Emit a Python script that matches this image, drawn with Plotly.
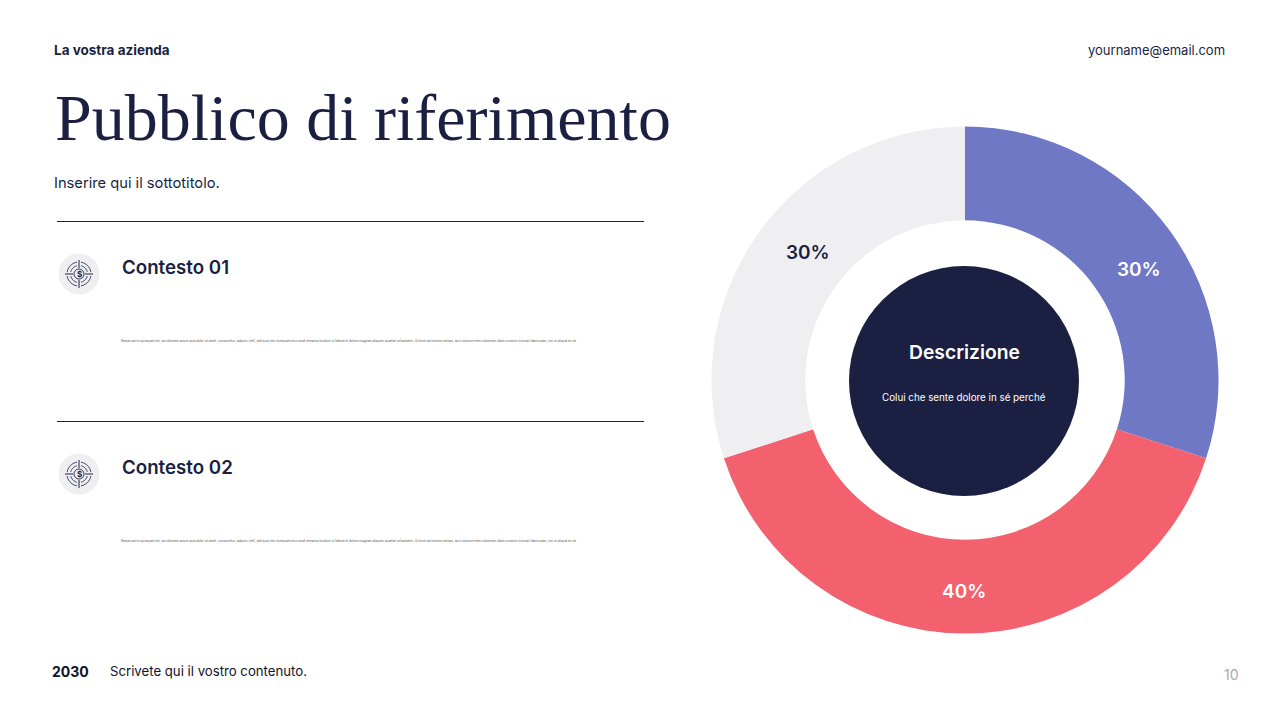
import math
import plotly.graph_objects as go

# Data
segment_names = ['Segmento 1', 'Segmento 2', 'Segmento 3']
segment_values = [30, 40, 30]
segment_colors = ['#6F78C4', '#F2616D', '#EFEFF2']

NAVY = '#1B1F42'
W, H = 1280, 720
body = ('Neque porro quisquam est, qui dolorem ipsum quia dolor sit amet, consectetur, adipisci velit, '
        'sed quia non numquam eius modi tempora incidunt ut labore et dolore magnam aliquam quaerat voluptatem. '
        'Ut enim ad minima veniam, quis nostrum exercitationem ullam corporis suscipit laboriosam, nisi ut aliquid ex ea')


def px_x(x):
    return x / W


def px_y(y):
    return 1 - y / H


def text(x, y, s, size, color=NAVY, weight=400, anchor='left', family='Inter'):
    # annotations pad the text by 2px, so left/right anchored text is pulled back
    shift = {'left': -2, 'right': 2, 'center': 0}[anchor]
    return dict(x=px_x(x + shift), y=px_y(y), xref='paper', yref='paper', text=s, showarrow=False,
                xanchor=anchor, yanchor='middle', align=anchor,
                font=dict(family=family, size=size, color=color, weight=weight))


def circle(cx, cy, r, fill='rgba(0,0,0,0)', line=None, width=0):
    return dict(type='circle', xref='paper', yref='paper',
                x0=px_x(cx - r), x1=px_x(cx + r), y0=px_y(cy + r), y1=px_y(cy - r),
                fillcolor=fill, line=dict(color=line or 'rgba(0,0,0,0)', width=width))


def segment(x0, y0, x1, y1, color=NAVY, width=1):
    return dict(type='line', xref='paper', yref='paper', x0=px_x(x0), y0=px_y(y0),
                x1=px_x(x1), y1=px_y(y1), line=dict(color=color, width=width))


def arc(cx, cy, r, start, end):
    # open polyline in pixels, angles in degrees clockwise from 12 o'clock
    pts = []
    for i in range(13):
        a = math.radians(start + (end - start) * i / 12)
        pts.append((cx + r * math.sin(a), cy - r * math.cos(a)))
    path = 'M ' + ' L '.join(f'{px_x(x):.5f},{px_y(y):.5f}' for x, y in pts)
    return dict(type='path', xref='paper', yref='paper', path=path,
                line=dict(color=NAVY, width=0.9))


def icon(cx, cy):
    # target badge: grey disc, broken rings, crosshair, small dollar sign
    parts = [circle(cx, cy, 20.5, fill='#EFEFF2'), circle(cx, cy, 5, line=NAVY, width=0.9)]
    for mid in (45, 135, 225, 315):
        parts.append(arc(cx, cy, 12, mid - 35, mid + 35))
        parts.append(arc(cx, cy, 8.5, mid - 30, mid + 30))
    parts += [
        segment(cx, cy - 14, cx, cy - 6),
        segment(cx, cy + 6, cx, cy + 14),
        segment(cx - 14, cy, cx - 6, cy),
        segment(cx + 6, cy, cx + 14, cy),
    ]
    return parts


fig = go.Figure(go.Pie(
    labels=segment_names,
    values=segment_values,
    sort=False,
    direction='clockwise',
    rotation=0,
    hole=0.63,
    marker=dict(colors=segment_colors, line=dict(width=0)),
    textinfo='none',
    showlegend=False,
    domain=dict(x=[px_x(711.5), px_x(1218.5)], y=[px_y(633.5), px_y(126.5)]),
))

shapes = [
    circle(964, 381, 115, fill=NAVY),
    segment(57, 221.5, 644, 221.5),
    segment(57, 421.5, 644, 421.5),
] + icon(79, 274) + icon(79, 474)

annotations = [
    text(54, 50, 'La vostra azienda', 13.5, weight=700),
    text(1225, 50, 'yourname@email.com', 13, anchor='right'),
    text(55, 118, 'Pubblico di riferimento', 66, family='Liberation Serif'),
    text(54, 182.5, 'Inserire qui il sottotitolo.', 14.7),
    text(122, 267, 'Contesto 01', 18.7, weight=600),
    text(122, 467, 'Contesto 02', 18.7, weight=600),
    text(121, 341, body, 3.08, color='#555555'),
    text(121, 541, body, 3.08, color='#555555'),
    text(79, 274, '$', 8, weight=700, anchor='center'),
    text(79, 474, '$', 8, weight=700, anchor='center'),
    text(964.5, 352, 'Descrizione', 19.3, color='#FFFFFF', weight=600, anchor='center'),
    text(963.5, 397.5, 'Colui che sente dolore in sé perché', 9.8, color='#FFFFFF', anchor='center'),
    text(52, 671, '2030', 14, color='#10122A', weight=700),
    text(110, 671, 'Scrivete qui il vostro contenuto.', 13.2, color='#10122A'),
    text(1231.5, 674, '10', 14, color='#A9A9B2', anchor='center'),
    # percentage labels, text taken from the values
    text(1139, 269, f'{segment_values[0]}%', 19, color='#FFFFFF', weight=600, anchor='center'),
    text(964, 591, f'{segment_values[1]}%', 19, color='#FFFFFF', weight=600, anchor='center'),
    text(808, 253, f'{segment_values[2]}%', 19, weight=600, anchor='center'),
]

fig.update_layout(
    width=W, height=H,
    margin=dict(l=0, r=0, t=0, b=0),
    paper_bgcolor='white',
    shapes=shapes,
    annotations=annotations,
)

fig.write_html('out.html', config={'displayModeBar': False},
               post_script="document.body.style.margin='0'")
